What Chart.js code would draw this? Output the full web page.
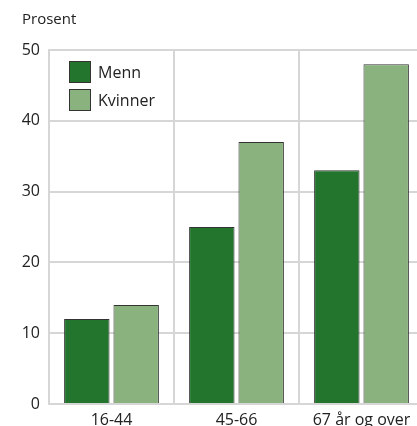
<!DOCTYPE html>
<html>
<head>
<meta charset="utf-8">
<script src="https://cdn.jsdelivr.net/npm/chart.js@4/dist/chart.umd.min.js"></script>
<style>
  html, body { margin: 0; padding: 0; background: #fff; overflow: hidden; }
  #wrap { width: 425px; height: 426px; position: relative; }
</style>
</head>
<body>
<div id="wrap"><canvas id="c"></canvas></div>
<script>
// data
const categories = ['16-44', '45-66', '67 år og over'];
const menn = [12, 25, 33];
const kvinner = [14, 37, 48];
const seriesNames = ['Menn', 'Kvinner'];
const yTicks = [0, 10, 20, 30, 40, 50];
const yTitle = 'Prosent';

const FONT = '"Open Sans", "Noto Sans", sans-serif';
const GRID = '#d6d6d6';

// legend sits inside the plot, top left
const insideLegend = {
    id: 'insideLegend',
    afterDraw(chart) {
        const ctx = chart.ctx;
        const area = chart.chartArea;
        ctx.save();
        ctx.font = '16px ' + FONT;
        ctx.textBaseline = 'middle';
        chart.data.datasets.forEach(function (ds, i) {
            const x = area.left + 20;
            const y = area.top + 11 + i * 28;
            ctx.fillStyle = ds.backgroundColor;
            ctx.fillRect(x, y, 22, 22);
            ctx.strokeStyle = '#333';
            ctx.lineWidth = 1;
            ctx.strokeRect(x + 0.5, y + 0.5, 21, 21);
            ctx.fillStyle = '#222';
            ctx.fillText(ds.label, x + 29, y + 12);
        });
        // axis title above the y axis
        ctx.font = '15px ' + FONT;
        ctx.fillStyle = '#222';
        ctx.textBaseline = 'middle';
        ctx.fillText(yTitle, 22, 20);
        ctx.restore();
    }
};

new Chart(document.getElementById('c'), {
    type: 'bar',
    data: {
        labels: categories,
        datasets: [
            {
                label: seriesNames[0],
                data: menn,
                backgroundColor: '#23752e',
                borderColor: '#333',
                borderWidth: 1,
                barPercentage: 0.92,
                categoryPercentage: 0.79
            },
            {
                label: seriesNames[1],
                data: kvinner,
                backgroundColor: '#8ab27e',
                borderColor: '#333',
                borderWidth: 1,
                barPercentage: 0.92,
                categoryPercentage: 0.79
            }
        ]
    },
    options: {
        responsive: true,
        maintainAspectRatio: false,
        animation: false,
        layout: { padding: { top: 50, right: 1, left: 0, bottom: 0 } },
        plugins: {
            legend: { display: false },
            tooltip: { enabled: false }
        },
        scales: {
            x: {
                afterFit: function (axis) { axis.height = 22; },
                grid: { color: GRID, lineWidth: 2, drawTicks: false, offset: true },
                border: { color: GRID, width: 2 },
                ticks: { color: '#222', font: { family: FONT, size: 16 }, padding: 7 }
            },
            y: {
                min: 0,
                max: 50,
                afterBuildTicks: function (axis) {
                    axis.ticks = yTicks.map(v => ({ value: v }));
                },
                afterFit: function (axis) { axis.width = 49; },
                grid: { color: GRID, lineWidth: 2, drawTicks: false },
                border: { color: GRID, width: 2 },
                ticks: { color: '#222', font: { family: FONT, size: 16 }, padding: 9 }
            }
        }
    },
    plugins: [insideLegend]
});
</script>
</body>
</html>
